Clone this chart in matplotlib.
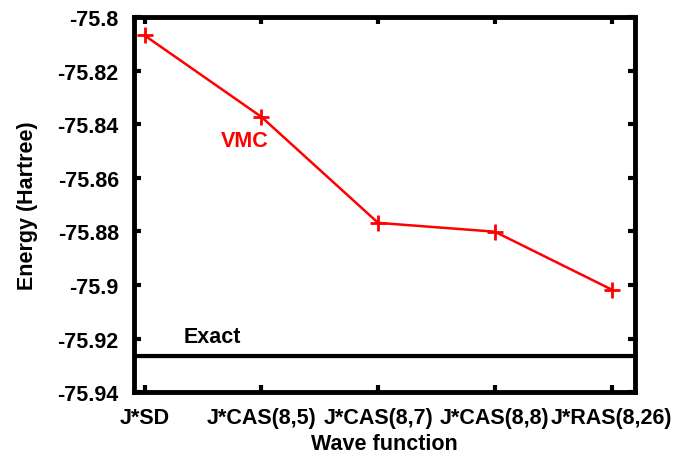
import matplotlib
matplotlib.use("Agg")
import matplotlib.pyplot as plt

plt.rcParams['font.family'] = ['Liberation Sans', 'DejaVu Sans']
plt.rcParams['font.weight'] = 'bold'

# VMC energies for each trial wave function (Hartree)
wave_functions = ['J*SD', 'J*CAS(8,5)', 'J*CAS(8,7)', 'J*CAS(8,8)', 'J*RAS(8,26)']
vmc_energy = [-75.8068, -75.8372, -75.8768, -75.8801, -75.9017]
exact_energy = -75.9264
y_ticks = [-75.8, -75.82, -75.84, -75.86, -75.88, -75.9, -75.92, -75.94]
y_tick_labels = ['-75.8', '-75.82', '-75.84', '-75.86', '-75.88', '-75.9', '-75.92', '-75.94']

fig = plt.figure(figsize=(6.74, 4.56), dpi=100)
ax = fig.add_axes([0.199, 0.138, 0.743, 0.822])

x = list(range(len(wave_functions)))
ax.plot(x, vmc_energy, color='red', lw=1.8, marker='+', ms=11, mew=2)

# exact reference energy across the whole range
ax.axhline(exact_energy, color='black', lw=3)
ax.axhline(exact_energy - 0.001, color='#bbbbbb', lw=0.6, ls=':')

ax.text(0.65, -75.8461, 'VMC', color='red', fontsize=15.5, fontweight='bold',
        ha='left', va='center')
ax.text(0.33, -75.9192, 'Exact', color='black', fontsize=15.5, fontweight='bold',
        ha='left', va='center')

ax.set_xlim(-0.09, 4.2)
ax.set_ylim(-75.94, -75.8)
ax.set_xticks(x)
ax.set_xticklabels(wave_functions)
ax.set_yticks(y_ticks)
ax.set_yticklabels(y_tick_labels)

ax.tick_params(direction='in', length=5, width=3, labelsize=15.5,
               top=True, right=True, pad=11)
ax.tick_params(axis='y', pad=11)
for lbl in ax.get_xticklabels() + ax.get_yticklabels():
    lbl.set_fontweight('bold')
for s in ax.spines.values():
    s.set_linewidth(3.5)

ax.set_xlabel('Wave function', fontsize=15.5, fontweight='bold', labelpad=3)
ax.set_ylabel('Energy (Hartree)', fontsize=15.5, fontweight='bold', labelpad=14)

fig.savefig('out.png', dpi=100)
